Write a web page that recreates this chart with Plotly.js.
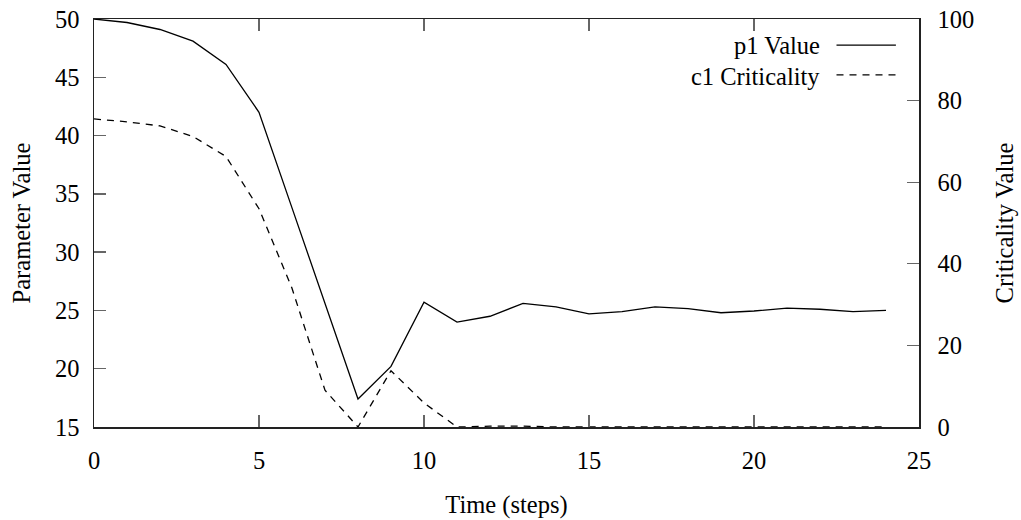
<!DOCTYPE html>
<html>
<head>
<meta charset="utf-8">
<script src="https://cdn.plot.ly/plotly-3.0.1.min.js"></script>
<style>html,body{margin:0;padding:0;background:#fff;}#chart{width:1021px;height:520px;}</style>
</head>
<body>
<div id="chart"></div>
<script>
const timeSteps = [0,1,2,3,4,5,6,7,8,9,10,11,12,13,14,15,16,17,18,19,20,21,22,23,24];
const p1Value = [50, 49.7, 49.1, 48.1, 46.1, 42.0, 33.8, 25.6, 17.4, 20.2, 25.7, 24.0, 24.5, 25.6, 25.3, 24.7, 24.9, 25.3, 25.15, 24.8, 24.95, 25.2, 25.1, 24.9, 25.0];
const c1Criticality = [75.5, 74.8, 73.8, 71.2, 66.3, 53.5, 34.0, 9.0, 0, 13.8, 5.9, 0, 0.2, 0.2, 0, 0, 0, 0, 0, 0, 0, 0, 0, 0, 0];
const seriesNames = ["p1 Value", "c1 Criticality"];

const FONT = "Liberation Serif, Times New Roman, serif";
const FS = 24.5;
const traces = [
  {x: timeSteps, y: p1Value, name: seriesNames[0], type: "scatter", mode: "lines",
   line: {color: "#000", width: 1.3}, yaxis: "y", showlegend: false},
  {x: timeSteps, y: c1Criticality, name: seriesNames[1], type: "scatter", mode: "lines",
   line: {color: "#000", width: 1.3, dash: "7px,6px"}, yaxis: "y2", showlegend: false}
];

const layout = {
  width: 1021, height: 520,
  margin: {l: 94, r: 102, t: 19, b: 93},
  paper_bgcolor: "#fff", plot_bgcolor: "#fff",
  font: {family: FONT, size: FS, color: "#000"},
  showlegend: false,
  xaxis: {
    range: [0, 25], tickvals: [0,5,10,15,20,25], ticks: "inside", ticklen: 12, tickcolor: "#666", tickwidth: 1.3,
    showline: true, linecolor: "#222", linewidth: 1.5, mirror: "ticks", showgrid: false, zeroline: false,
    ticklabelstandoff: 11, tickfont: {family: FONT, size: FS},
    title: {text: "Time (steps)", font: {family: FONT, size: FS}, standoff: 23}
  },
  yaxis: {
    range: [15, 50], tickvals: [15,20,25,30,35,40,45,50], ticks: "inside", ticklen: 12, tickcolor: "#666", tickwidth: 1.3,
    showline: true, linecolor: "#222", linewidth: 1.5, showgrid: false, zeroline: false,
    ticklabelstandoff: 8, tickfont: {family: FONT, size: FS},
    title: {text: "Parameter Value", font: {family: FONT, size: FS}, standoff: 17}
  },
  yaxis2: {
    range: [0, 100], tickvals: [0,20,40,60,80,100], overlaying: "y", side: "right",
    ticks: "inside", ticklen: 12, tickcolor: "#666", tickwidth: 1.3,
    showline: true, linecolor: "#222", linewidth: 1.5, showgrid: false, zeroline: false,
    ticklabelstandoff: 12, tickfont: {family: FONT, size: FS},
    title: {text: "Criticality Value", font: {family: FONT, size: FS}, standoff: 22}
  },
  annotations: [
    {xref: "paper", yref: "paper", x: 0.882, y: 0.934, xanchor: "right", yanchor: "middle",
     text: seriesNames[0], showarrow: false, font: {family: FONT, size: FS}},
    {xref: "paper", yref: "paper", x: 0.882, y: 0.858, xanchor: "right", yanchor: "middle",
     text: seriesNames[1], showarrow: false, font: {family: FONT, size: FS}}
  ],
  shapes: [
    {type: "line", xref: "paper", yref: "paper", x0: 0.900, x1: 0.972, y0: 0.936, y1: 0.936,
     line: {color: "#000", width: 1.3}},
    {type: "line", xref: "paper", yref: "paper", x0: 0.900, x1: 0.972, y0: 0.863, y1: 0.863,
     line: {color: "#000", width: 1.3, dash: "7px,6px"}}
  ]
};

Plotly.newPlot("chart", traces, layout, {staticPlot: true, displayModeBar: false});
</script>
</body>
</html>
